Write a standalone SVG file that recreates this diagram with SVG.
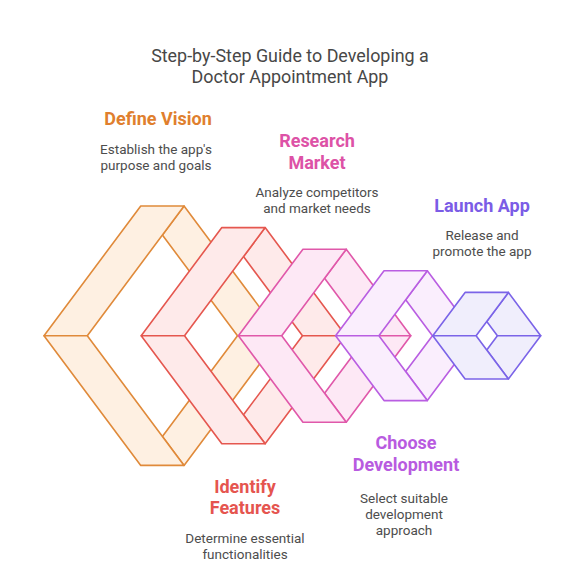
<svg xmlns="http://www.w3.org/2000/svg" width="585" height="585" viewBox="0 0 585 585">
<style>
  .t{font-family:Roboto,"Liberation Sans",sans-serif;text-anchor:middle}
  .title{font-size:17.9px;fill:#474747}
  .h{font-size:18px;font-weight:bold}
  .d{font-size:13.5px;fill:#4d4d4d}
  polygon{stroke-width:1.6;stroke-linejoin:round}
  .s1 polygon{fill:#FEF0E2;stroke:#E08A3A}
  .s2 polygon{fill:#FEEAEA;stroke:#E5574F}
  .s3 polygon{fill:#FDE8F5;stroke:#E058AA}
  .s4 polygon{fill:#FAEEFD;stroke:#B95EE2}
  .s5 polygon{fill:#F0EEFC;stroke:#7B64E8}
</style>
<rect width="585" height="585" fill="#ffffff"/>
<g id="title">
  <text class="t title" x="290" y="61.5">Step-by-Step Guide to Developing a</text>
  <text class="t title" x="290" y="82.5">Doctor Appointment App</text>
</g>
<g id="step1" class="s1">
  <polygon points="184.05,206 280.8,335.7 237.5,335.7 162.4,235"/>
  <polygon points="184.05,465.4 280.8,335.7 237.5,335.7 162.4,436.4"/>
  <polygon points="44,335.7 140.75,206 184.05,206 87.3,335.7"/>
  <polygon points="44,335.7 140.75,465.4 184.05,465.4 87.3,335.7"/>
</g>
<g id="step2" class="s2">
  <polygon points="265.14,227.6 345.78,335.7 302.48,335.7 243.5,256.6"/>
  <polygon points="265.14,443.8 345.78,335.7 302.48,335.7 243.5,414.8"/>
  <polygon points="141.2,335.7 221.84,227.6 265.14,227.6 184.5,335.7"/>
  <polygon points="141.2,335.7 221.84,443.8 265.14,443.8 184.5,335.7"/>
</g>
<g id="step3" class="s3">
  <polygon points="346.23,249.2 410.76,335.7 367.46,335.7 324.58,278.22"/>
  <polygon points="346.23,422.2 410.76,335.7 367.46,335.7 324.58,393.18"/>
  <polygon points="238.4,335.7 302.93,249.2 346.23,249.2 281.7,335.7"/>
  <polygon points="238.4,335.7 302.93,422.2 346.23,422.2 281.7,335.7"/>
</g>
<g id="step4" class="s4">
  <polygon points="427.32,270.8 475.74,335.7 432.44,335.7 405.67,299.82"/>
  <polygon points="427.32,400.6 475.74,335.7 432.44,335.7 405.67,371.58"/>
  <polygon points="335.6,335.7 384.02,270.8 427.32,270.8 378.9,335.7"/>
  <polygon points="335.6,335.7 384.02,400.6 427.32,400.6 378.9,335.7"/>
</g>
<g id="step5" class="s5">
  <polygon points="508.4,292.4 540.7,335.7 497.4,335.7 486.75,321.42"/>
  <polygon points="508.4,379 540.7,335.7 497.4,335.7 486.75,349.98"/>
  <polygon points="432.8,335.7 465.1,292.4 508.4,292.4 476.1,335.7"/>
  <polygon points="432.8,335.7 465.1,379 508.4,379 476.1,335.7"/>
</g>
<g id="label1">
  <text class="t h" x="158" y="125" fill="#E07F2E">Define Vision</text>
  <text class="t d" x="156" y="153.5">Establish the app's</text>
  <text class="t d" x="156" y="169.5">purpose and goals</text>
</g>
<g id="label3">
  <text class="t h" x="317" y="147" fill="#DD52A6">Research</text>
  <text class="t h" x="317" y="168.5" fill="#DD52A6">Market</text>
  <text class="t d" x="317" y="196.5">Analyze competitors</text>
  <text class="t d" x="317" y="212.5">and market needs</text>
</g>
<g id="label5">
  <text class="t h" x="482" y="212" fill="#7B5CE6">Launch App</text>
  <text class="t d" x="482" y="240">Release and</text>
  <text class="t d" x="482" y="256">promote the app</text>
</g>
<g id="label4">
  <text class="t h" x="406" y="449" fill="#B85BE0">Choose</text>
  <text class="t h" x="406" y="470.5" fill="#B85BE0">Development</text>
  <text class="t d" x="404" y="502.5">Select suitable</text>
  <text class="t d" x="404" y="518.5">development</text>
  <text class="t d" x="404" y="534.5">approach</text>
</g>
<g id="label2">
  <text class="t h" x="245" y="493" fill="#E5554F">Identify</text>
  <text class="t h" x="245" y="514" fill="#E5554F">Features</text>
  <text class="t d" x="245" y="543">Determine essential</text>
  <text class="t d" x="245" y="558.5">functionalities</text>
</g>
</svg>
